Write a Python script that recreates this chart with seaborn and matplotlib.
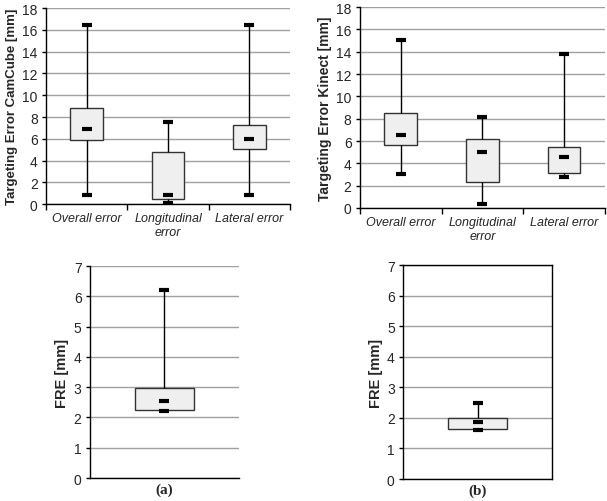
import numpy as np
import pandas as pd
import matplotlib
matplotlib.use("Agg")
import matplotlib.pyplot as plt
import seaborn as sns

# ---- data (five-number summaries) ----
err_cats = ["Overall error", "Longitudinal\nerror", "Lateral error"]

cam_min = [0.8, 0.1, 0.8]
cam_q1 = [5.9, 0.5, 5.1]
cam_med = [6.9, 0.85, 6.0]
cam_q3 = [8.85, 4.75, 7.3]
cam_max = [16.5, 7.5, 16.5]

kin_min = [3.05, 0.35, 2.75]
kin_q1 = [5.65, 2.35, 3.1]
kin_med = [6.55, 5.0, 4.6]
kin_q3 = [8.5, 6.15, 5.45]
kin_max = [15.1, 8.2, 13.8]

fre_cat = ["FRE"]
fre_a_min = [2.2]
fre_a_q1 = [2.25]
fre_a_med = [2.55]
fre_a_q3 = [2.97]
fre_a_max = [6.2]

fre_b_min = [1.6]
fre_b_q1 = [1.65]
fre_b_med = [1.85]
fre_b_q3 = [2.0]
fre_b_max = [2.5]

err_ticks = list(range(0, 19, 2))
fre_ticks = list(range(0, 8))

sns.set_theme(style="white")
plt.rcParams["font.family"] = ["Liberation Sans", "DejaVu Sans"]


def five_num_frame(cats, mn, q1, md, q3, mx):
    rows = []
    for i, c in enumerate(cats):
        for v in (mn[i], q1[i], md[i], q3[i], mx[i]):
            rows.append({"cat": c, "val": v})
    return pd.DataFrame(rows)


def draw(ax, cats, mn, q1, md, q3, mx, ticks, ylabel, capw, lsize):
    df = five_num_frame(cats, mn, q1, md, q3, mx)
    sns.boxplot(data=df, x="cat", y="val", order=cats, whis=(0, 100),
                width=0.4, color="#eeeeee", linecolor="#333333", linewidth=1,
                showfliers=False, ax=ax,
                boxprops=dict(facecolor="#efefef", edgecolor="#333333", linewidth=1),
                whiskerprops=dict(color="black", linewidth=1),
                capprops=dict(color="black", linewidth=3, solid_capstyle="butt"),
                medianprops=dict(visible=False),
                capwidths=capw)
    dm = pd.DataFrame({"cat": cats, "med": md})
    sns.pointplot(data=dm, x="cat", y="med", order=cats, color="black",
                  linestyle="none", marker="_", markersize=7.5,
                  markeredgewidth=3, errorbar=None, ax=ax)
    ax.set_ylim(ticks[0], ticks[-1])
    ax.set_yticks(ticks)
    ax.set_yticklabels([str(t) for t in ticks], fontsize=10)
    ax.yaxis.grid(True, color="#a0a0a0", linewidth=1)
    ax.set_axisbelow(True)
    ax.set_ylabel(ylabel, fontsize=lsize, fontweight="bold", labelpad=3)
    ax.set_xlabel("")
    for s in ("left", "bottom"):
        ax.spines[s].set_color("black")
        ax.spines[s].set_linewidth(1)
    ax.tick_params(axis="y", left=True, length=3, width=1, color="black", pad=3)


fig = plt.figure(figsize=(6.07, 5.02), dpi=100)

ax1 = fig.add_axes([0.0758, 0.5916, 0.402, 0.390])
ax2 = fig.add_axes([0.593, 0.5837, 0.4036, 0.400])
ax3 = fig.add_axes([0.148, 0.0458, 0.2455, 0.422])
ax4 = fig.add_axes([0.664, 0.0438, 0.2455, 0.426])

draw(ax1, err_cats, cam_min, cam_q1, cam_med, cam_q3, cam_max, err_ticks,
     "Targeting Error CamCube [mm]", 0.123, 9.5)
draw(ax2, err_cats, kin_min, kin_q1, kin_med, kin_q3, kin_max, err_ticks,
     "Targeting Error Kinect [mm]", 0.123, 10)
draw(ax3, fre_cat, fre_a_min, fre_a_q1, fre_a_med, fre_a_q3, fre_a_max, fre_ticks,
     "FRE [mm]", 0.067, 10.5)
draw(ax4, fre_cat, fre_b_min, fre_b_q1, fre_b_med, fre_b_q3, fre_b_max, fre_ticks,
     "FRE [mm]", 0.067, 10.5)

for ax in (ax1, ax2):
    ax.spines["top"].set_visible(False)
    ax.spines["right"].set_visible(False)
    ax.set_xlim(-0.5, 2.5)
    ax.set_xticks([0, 1, 2])
    ax.set_xticklabels(err_cats, fontsize=9, style="italic")
    ax.set_xticks([-0.5, 0.5, 1.5, 2.5], minor=True)
    ax.tick_params(axis="x", which="major", length=0, pad=6)
    ax.tick_params(axis="x", which="minor", bottom=True, length=4, width=1,
                   color="black")

ax3.spines["top"].set_visible(False)
ax3.spines["right"].set_visible(False)
for s in ("top", "right"):
    ax4.spines[s].set_color("black")
    ax4.spines[s].set_linewidth(1)
    ax4.spines[s].set_visible(True)

for ax, lab in ((ax3, "(a)"), (ax4, "(b)")):
    ax.set_xlim(-0.5, 0.5)
    ax.set_xticks([])
    ax.set_xlabel(lab, fontsize=11, fontweight="bold",
                  family=["Liberation Serif", "DejaVu Serif"], labelpad=3)

fig.savefig("out.png", dpi=100)
